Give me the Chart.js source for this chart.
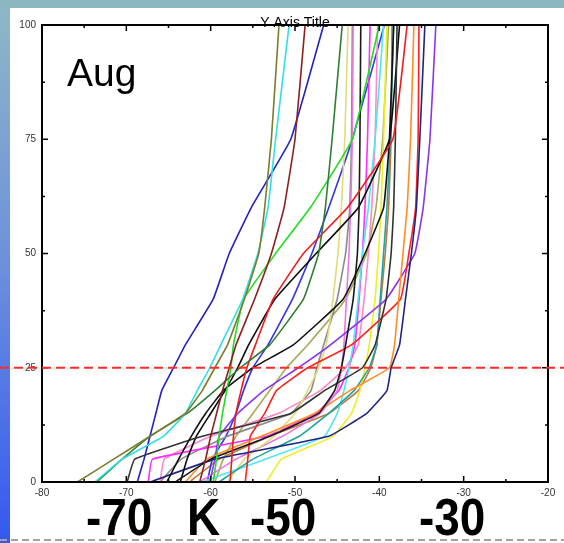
<!DOCTYPE html>
<html>
<head>
<meta charset="utf-8">
<title>Aug profiles</title>
<script src="https://cdn.jsdelivr.net/npm/chart.js@4.4.1/dist/chart.umd.min.js"></script>
<style>
  html, body { margin: 0; padding: 0; background: #fff; }
  #wrap { width: 564px; height: 543px; }
</style>
</head>
<body>
<div id="wrap"><canvas id="profileChart" width="564" height="543"></canvas></div>
<script>
/* ================= DATA ================= */

// heights (y axis), every profile gives one temperature per height
const heights = [0, 5, 10, 15, 20, 25, 30, 40, 50, 60, 75, 100];

const olive     = [-75.8, -71.5, -67.2, -63.0, -61.0, -59.5, -58.0, -56.0, -54.3, -53.6, -52.8, -51.9];
const cyan      = [-73.7, -70.5, -65.6, -63.0, -61.6, -60.1, -58.8, -56.2, -54.4, -53.2, -52.3, -50.7];
const darkRed   = [-61.3, -60.6, -60.0, -59.3, -58.6, -57.8, -57.0, -54.8, -52.8, -51.3, -50.0, -48.8];
const blue      = [-68.7, -67.9, -67.2, -66.5, -65.8, -64.4, -63.0, -59.7, -57.8, -55.2, -50.5, -46.6];
const darkGreen = [-73.5, -70.5, -67.2, -62.8, -59.5, -56.5, -53.0, -49.0, -47.2, -46.4, -45.6, -44.4];
const lime      = [-59.7, -59.3, -59.0, -58.6, -58.1, -57.6, -57.3, -56.1, -52.3, -48.2, -43.2, -40.0];
const redA      = [-57.7, -57.5, -57.3, -57.0, -56.4, -55.7, -54.7, -52.6, -49.0, -43.8, -38.4, -36.7];
const blackA    = [-65.2, -63.8, -62.3, -60.6, -58.5, -55.0, -50.2, -44.3, -41.7, -39.5, -38.8, -38.3];
const blackB    = [-64.2, -60.0, -53.0, -47.2, -45.3, -44.5, -44.0, -43.1, -42.6, -42.4, -42.3, -42.2];
const blackC    = [-69.9, -69.0, -61.0, -50.5, -46.5, -42.0, -40.5, -39.2, -38.6, -38.3, -38.1, -37.9];
const blackD    = [-63.6, -62.8, -61.7, -60.0, -58.3, -56.8, -55.5, -52.4, -47.5, -42.5, -38.8, -37.6];
const navy      = [-67.2, -59.5, -46.0, -41.5, -39.1, -38.6, -37.6, -36.9, -36.2, -35.6, -35.2, -34.6];
const orange    = [-63.0, -60.5, -54.0, -47.7, -43.5, -38.8, -38.2, -37.7, -37.2, -36.7, -36.3, -35.9];
const redB      = [-55.9, -55.6, -55.3, -53.6, -52.2, -48.5, -43.3, -37.5, -36.5, -35.7, -35.4, -35.3];
const purple    = [-60.1, -59.5, -59.0, -56.8, -53.7, -49.6, -45.8, -39.2, -35.8, -34.8, -34.0, -33.3];
const teal      = [-59.0, -55.0, -49.5, -46.0, -43.0, -41.2, -40.3, -39.9, -39.5, -39.1, -38.7, -38.3];
const lightCyan = [-61.0, -53.5, -46.5, -45.0, -44.2, -43.6, -43.1, -42.5, -42.0, -41.3, -40.5, -39.5];
const yellowA   = [-53.4, -51.6, -45.5, -43.3, -42.3, -41.7, -41.2, -40.5, -40.1, -39.8, -39.5, -39.1];
const yellowB   = [-58.0, -56.0, -52.5, -50.0, -48.5, -47.2, -46.3, -45.5, -44.9, -44.5, -44.1, -43.7];
const violet    = [-61.3, -57.0, -51.5, -47.0, -45.0, -44.5, -44.2, -43.9, -43.6, -43.4, -43.2, -43.1];
const magenta   = [-67.4, -66.9, -53.4, -47.5, -44.8, -43.6, -42.9, -42.4, -42.0, -41.7, -41.4, -41.1];
const pink      = [-66.0, -65.5, -60.0, -52.0, -47.0, -44.0, -42.5, -41.8, -41.3, -40.9, -40.5, -40.2];
const gray      = [-66.0, -63.5, -58.0, -50.5, -48.1, -47.4, -46.6, -45.0, -44.0, -43.5, -43.3, -43.2];
const blue2     = [-60.4, -59.8, -58.2, -57.0, -56.1, -55.0, -53.2, -50.3, -48.0, -46.0, -43.2, -39.4];
const khaki     = [-59.5, -58.5, -57.0, -55.0, -53.0, -51.0, -48.5, -44.0, -41.5, -40.4, -39.6, -38.9];
const sienna    = [-62.5, -59.0, -53.0, -46.0, -42.5, -41.0, -40.3, -39.8, -39.3, -38.9, -38.6, -38.5];

const xTicks = [-80, -70, -60, -50, -40, -30, -20];
const yTicks = [0, 25, 50, 75, 100];
const refLevel = 25;

const bigLabels = ["-70", "K", "-50", "-30"];
const panelLabel = "Aug";
const axisTitle = "Y Axis Title";

/* ================= STYLE ================= */

const profiles = [
  ["olive", olive, "#7d7d2e"], ["cyan", cyan, "#2fe0e6"], ["darkRed", darkRed, "#8e1f1f"],
  ["blue", blue, "#2222c4"], ["darkGreen", darkGreen, "#2f7f34"], ["lime", lime, "#22dd22"],
  ["redA", redA, "#f01c1c"], ["blackA", blackA, "#111111"], ["blackB", blackB, "#1a1a1a"],
  ["blackC", blackC, "#333333"], ["blackD", blackD, "#0c0c0c"], ["navy", navy, "#1f2580"],
  ["orange", orange, "#ff8c26"], ["redB", redB, "#ff2020"], ["purple", purple, "#8a34ee"],
  ["teal", teal, "#1fa3a3"], ["lightCyan", lightCyan, "#4de6f2"], ["yellowA", yellowA, "#eeee22"],
  ["yellowB", yellowB, "#e2dc78"], ["violet", violet, "#e57ae5"], ["magenta", magenta, "#ff2eff"],
  ["pink", pink, "#ff88c8"], ["gray", gray, "#8a8a8a"], ["blue2", blue2, "#3434e8"],
  ["khaki", khaki, "#a9a95a"], ["sienna", sienna, "#c0783c"]
];

const FONT = "'Liberation Sans', Arial, sans-serif";

document.addEventListener("DOMContentLoaded", () => {

  /* ================= DECOR PLUGIN ================= */

  const decor = {
    id: "decor",
    beforeDraw(chart) {
      const c = chart.ctx;
      c.save();
      c.fillStyle = "#ffffff";
      c.fillRect(0, 0, chart.width, chart.height);
      // left gradient strip
      const g = c.createLinearGradient(0, 0, 0, chart.height);
      g.addColorStop(0, "#8fb8c6");
      g.addColorStop(0.5, "#6b8fdc");
      g.addColorStop(1, "#3558f2");
      c.fillStyle = g;
      c.fillRect(0, 0, 10, chart.height);
      // top strip
      c.fillStyle = "#8db6c3";
      c.fillRect(0, 0, chart.width, 8);
      c.restore();
    },
    afterDatasetsDraw(chart) {
      const c = chart.ctx;
      const a = chart.chartArea;
      const xs = chart.scales.x, ys = chart.scales.y;
      c.save();

      // frame
      c.strokeStyle = "#000";
      c.lineWidth = 2;
      c.strokeRect(a.left, a.top, a.right - a.left, a.bottom - a.top);

      // inward ticks, major + minor
      c.lineWidth = 1.5;
      c.beginPath();
      for (let i = 0; i < xTicks.length; i++) {
        const px = xs.getPixelForValue(xTicks[i]);
        c.moveTo(px, a.bottom); c.lineTo(px, a.bottom - 6);
        c.moveTo(px, a.top); c.lineTo(px, a.top + 6);
        if (i < xTicks.length - 1) {
          const mx = xs.getPixelForValue((xTicks[i] + xTicks[i + 1]) / 2);
          c.moveTo(mx, a.bottom); c.lineTo(mx, a.bottom - 3);
          c.moveTo(mx, a.top); c.lineTo(mx, a.top + 3);
        }
      }
      for (let i = 0; i < yTicks.length; i++) {
        const py = ys.getPixelForValue(yTicks[i]);
        c.moveTo(a.left, py); c.lineTo(a.left + 6, py);
        c.moveTo(a.right, py); c.lineTo(a.right - 6, py);
        if (i < yTicks.length - 1) {
          const my = ys.getPixelForValue((yTicks[i] + yTicks[i + 1]) / 2);
          c.moveTo(a.left, my); c.lineTo(a.left + 3, my);
          c.moveTo(a.right, my); c.lineTo(a.right - 3, my);
        }
      }
      c.stroke();

      // red reference line
      const ry = ys.getPixelForValue(refLevel);
      c.strokeStyle = "#ff2a2a";
      c.lineWidth = 2;
      c.setLineDash([9, 5]);
      c.beginPath();
      c.moveTo(0, ry); c.lineTo(chart.width, ry);
      c.stroke();

      // grey dashed line at the bottom
      c.strokeStyle = "#a3a3a3";
      c.setLineDash([7, 4]);
      c.beginPath();
      c.moveTo(0, 540); c.lineTo(chart.width, 540);
      c.stroke();
      c.setLineDash([]);

      // texts
      c.fillStyle = "#000";
      c.textBaseline = "alphabetic";
      c.font = "14px " + FONT;
      c.textAlign = "center";
      c.fillText(axisTitle, 295, 27);

      c.textAlign = "left";
      c.font = "39px " + FONT;
      c.fillText(panelLabel, 67, 86);

      const bigX = [86, 187, 250, 419];
      c.font = "bold 51px " + FONT;
      bigLabels.forEach((t, i) => {
        c.save();
        c.translate(bigX[i], 535);
        c.scale(0.9, 1);
        c.fillText(t, 0, 0);
        c.restore();
      });

      c.restore();
    }
  };

  /* ================= CHART ================= */

  const datasets = profiles.map(([name, temps, color]) => ({
    label: name,
    data: temps.map((t, i) => ({ x: t, y: heights[i] })),
    borderColor: color,
    backgroundColor: color,
    borderWidth: 1.6,
    pointRadius: 0,
    tension: 0.1,
    fill: false
  }));

  const tickFont = { size: 10, family: FONT };

  new Chart(document.getElementById("profileChart"), {
    type: "line",
    data: { datasets },
    options: {
      responsive: false,
      animation: false,
      devicePixelRatio: 1,
      layout: { padding: { left: 0, right: 16, top: 25, bottom: 0 } },
      plugins: {
        legend: { display: false },
        tooltip: { enabled: false }
      },
      scales: {
        x: {
          type: "linear",
          min: -80,
          max: -20,
          afterBuildTicks: s => { s.ticks = xTicks.map(v => ({ value: v })); },
          ticks: { autoSkip: false, padding: 5, color: "#333", font: tickFont, maxRotation: 0 },
          grid: { display: false, drawTicks: false },
          border: { display: false },
          afterFit: s => { s.height = 61; }
        },
        y: {
          min: 0,
          max: 100,
          afterBuildTicks: s => { s.ticks = yTicks.map(v => ({ value: v })); },
          ticks: { autoSkip: false, padding: 6, color: "#333", font: tickFont },
          grid: { display: false, drawTicks: false },
          border: { display: false },
          afterFit: s => { s.width = 42; }
        }
      }
    },
    plugins: [decor]
  });

});
</script>
</body>
</html>
